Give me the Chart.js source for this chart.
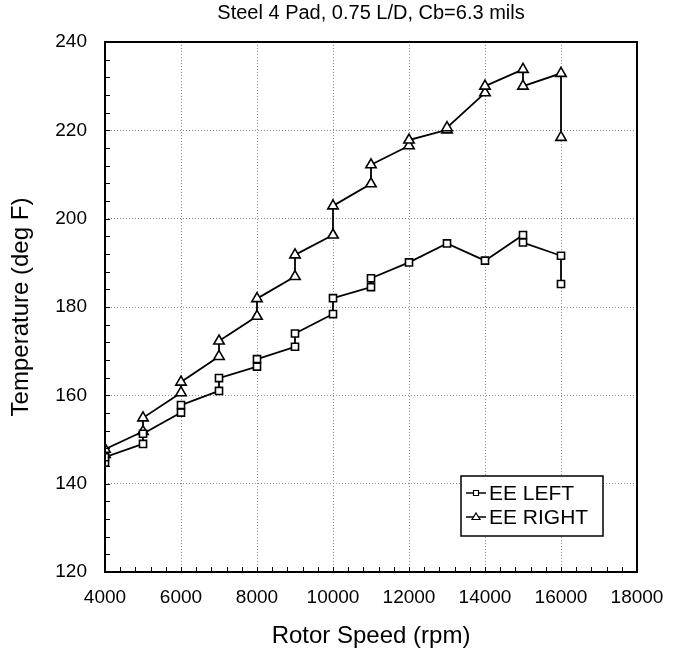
<!DOCTYPE html>
<html>
<head>
<meta charset="utf-8">
<script src="https://cdn.jsdelivr.net/npm/chart.js@4.4.0/dist/chart.umd.min.js"></script>
<style>
  html, body { margin: 0; padding: 0; background: #fff; }
</style>
</head>
<body>
<canvas id="graficoTemp" width="678" height="656"></canvas>
<script>
const FUENTE = '"Liberation Sans", Arial, Helvetica, sans-serif';

// EE LEFT (cuadrados): dos lecturas por velocidad en casi todos los casos
const velLeft = [4000, 4000, 5000, 5000, 6000, 6000, 7000, 7000, 8000, 8000, 9000, 9000,
  10000, 10000, 11000, 11000, 12000, 13000, 14000, 15000, 15000, 16000, 16000];
const tempLeft = [144.8, 146.0, 149.0, 151.3, 156.1, 157.8, 161.0, 163.9, 166.5, 168.2, 171.0, 174.0,
  178.4, 182.0, 184.5, 186.5, 190.1, 194.4, 190.5, 196.3, 194.6, 191.6, 185.2];

// EE RIGHT (triangulos)
const velRight = [4000, 4000, 5000, 5000, 6000, 6000, 7000, 7000, 8000, 8000, 9000, 9000,
  10000, 10000, 11000, 11000, 12000, 12000, 13000, 13000, 14000, 14000, 15000, 15000, 16000, 16000];
const tempRight = [146.6, 147.8, 151.8, 154.9, 160.6, 163.0, 168.8, 172.3, 177.9, 181.9, 186.9, 191.8,
  196.3, 202.9, 207.9, 212.2, 216.5, 217.8, 220.1, 220.6, 228.5, 230.0, 233.8, 230.0, 232.9, 218.4];

const ejeX = { min: 4000, max: 18000, paso: 2000, menor: 400 };
const ejeY = { min: 120, max: 240, paso: 20, menor: 4 };

const puntos = (xs, ys) => xs.map((x, i) => ({ x, y: ys[i] }));

// marco completo + ticks menores hacia adentro
const marcoPlugin = {
  id: 'marco',
  afterDatasetsDraw(chart) {
    const { ctx, chartArea: a, scales } = chart;
    ctx.save();
    ctx.strokeStyle = '#000';
    ctx.lineWidth = 1;
    ctx.beginPath();
    for (let v = ejeY.min; v <= ejeY.max; v += ejeY.menor) {
      const py = Math.round(scales.y.getPixelForValue(v)) + 0.5;
      ctx.moveTo(a.left, py);
      ctx.lineTo(a.left + 5, py);
    }
    for (let v = ejeX.min; v <= ejeX.max; v += ejeX.menor) {
      const px = Math.round(scales.x.getPixelForValue(v)) + 0.5;
      ctx.moveTo(px, a.bottom);
      ctx.lineTo(px, a.bottom - 5);
    }
    ctx.stroke();
    ctx.lineWidth = 2;
    ctx.strokeRect(a.left, a.top, a.right - a.left, a.bottom - a.top);
    ctx.restore();
  }
};

// leyenda dentro del area, abajo a la derecha
const leyendaPlugin = {
  id: 'leyendaCaja',
  afterDraw(chart) {
    const { ctx, chartArea: a } = chart;
    const x0 = a.right - 176, y0 = a.bottom - 96, w = 142, h = 60;
    ctx.save();
    ctx.fillStyle = '#fff';
    ctx.fillRect(x0, y0, w, h);
    ctx.strokeStyle = '#000';
    ctx.lineWidth = 1.5;
    ctx.strokeRect(x0, y0, w, h);
    chart.data.datasets.forEach((ds, i) => {
      const cy = y0 + 17 + i * 24;
      ctx.strokeStyle = '#000';
      ctx.lineWidth = 1.5;
      ctx.beginPath();
      ctx.moveTo(x0 + 5, cy);
      ctx.lineTo(x0 + 25, cy);
      ctx.stroke();
      ctx.fillStyle = '#fff';
      ctx.lineWidth = 1.2;
      ctx.beginPath();
      if (ds.pointStyle === 'rect') {
        ctx.rect(x0 + 12.5, cy - 2.5, 5, 5);
      } else {
        ctx.moveTo(x0 + 15, cy - 4);
        ctx.lineTo(x0 + 19, cy + 2.5);
        ctx.lineTo(x0 + 11, cy + 2.5);
        ctx.closePath();
      }
      ctx.fill();
      ctx.stroke();
      ctx.fillStyle = '#000';
      ctx.font = '21px ' + FUENTE;
      ctx.textBaseline = 'middle';
      ctx.textAlign = 'left';
      ctx.fillText(ds.label, x0 + 28, cy + 1);
    });
    ctx.restore();
  }
};

const grilla = {
  color: '#8c8c8c',
  lineWidth: 1,
  drawTicks: false
};
const borde = { display: false, dash: [1, 2] };

const ctx = document.getElementById('graficoTemp').getContext('2d');
new Chart(ctx, {
  type: 'scatter',
  data: {
    datasets: [
      {
        label: 'EE LEFT',
        data: puntos(velLeft, tempLeft),
        showLine: true,
        borderColor: '#000',
        borderWidth: 1.8,
        pointStyle: 'rect',
        pointRadius: 5,
        pointBackgroundColor: '#fff',
        pointBorderColor: '#000',
        pointBorderWidth: 1.6,
        tension: 0
      },
      {
        label: 'EE RIGHT',
        data: puntos(velRight, tempRight),
        showLine: true,
        borderColor: '#000',
        borderWidth: 1.8,
        pointStyle: 'triangle',
        pointRadius: 6,
        pointBackgroundColor: '#fff',
        pointBorderColor: '#000',
        pointBorderWidth: 1.6,
        tension: 0
      }
    ]
  },
  options: {
    responsive: false,
    animation: false,
    layout: { padding: { left: 0, right: 41, top: 0, bottom: 0 } },
    plugins: {
      legend: { display: false },
      tooltip: { enabled: false },
      title: {
        display: true,
        text: 'Steel 4 Pad, 0.75 L/D, Cb=6.3 mils',
        fullSize: false,
        color: '#000',
        font: { family: FUENTE, size: 20, weight: 'normal', lineHeight: 1.1 },
        padding: { top: 2, bottom: 18 }
      }
    },
    scales: {
      x: {
        type: 'linear',
        min: ejeX.min,
        max: ejeX.max,
        grid: grilla,
        border: borde,
        ticks: {
          stepSize: ejeX.paso,
          color: '#000',
          padding: 14,
          maxRotation: 0,
          font: { family: FUENTE, size: 19 },
          callback: v => String(v)
        },
        title: {
          display: true,
          text: 'Rotor Speed (rpm)',
          color: '#000',
          font: { family: FUENTE, size: 24 },
          padding: { top: 4, bottom: 5 }
        },
        afterFit: s => { s.height = 84; }
      },
      y: {
        min: ejeY.min,
        max: ejeY.max,
        grid: grilla,
        border: borde,
        ticks: {
          stepSize: ejeY.paso,
          color: '#000',
          padding: 18,
          font: { family: FUENTE, size: 19 },
          callback: v => String(v)
        },
        title: {
          display: true,
          text: 'Temperature (deg F)',
          color: '#000',
          font: { family: FUENTE, size: 24 },
          padding: { top: 7, bottom: 0 }
        },
        afterFit: s => { s.width = 105; }
      }
    }
  },
  plugins: [marcoPlugin, leyendaPlugin]
});
</script>
</body>
</html>
